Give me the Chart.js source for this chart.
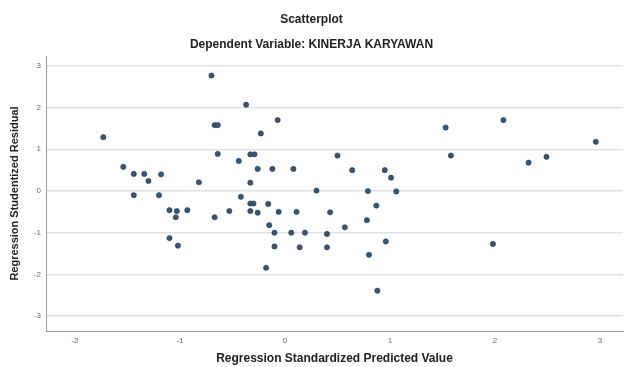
<!DOCTYPE html>
<html>
<head>
<meta charset="utf-8">
<script src="https://cdn.jsdelivr.net/npm/chart.js@4.4.1/dist/chart.umd.min.js"></script>
<style>
  html, body { margin: 0; padding: 0; background: #ffffff; }
  #wrap { width: 627px; height: 367px; }
</style>
</head>
<body>
<div id="wrap"><canvas id="c" width="627" height="367"></canvas></div>
<script>
// Regression Standardized Predicted Value (x)
const predicted = [
  -1.73, -1.54, -1.44, -1.34, -1.30, -1.18, -0.82, -1.44, -1.20, -1.10,
  -1.03, -1.04, -0.93, -1.10, -1.02, -0.70, -0.37, -0.67, -0.64, -0.07,
  -0.23, -0.64, -0.33, -0.29, -0.44, -0.26, -0.12, 0.08, -0.33, -0.42,
  -0.33, -0.30, -0.16, -0.53, -0.33, -0.26, -0.06, -0.67, -0.15, -0.10,
  0.06, -0.10, -0.18, 0.50, 0.64, 0.95, 1.01, 0.30, 0.79, 1.06,
  0.87, 0.11, 0.43, 0.78, 0.57, 0.19, 0.40, 0.96, 0.14, 0.40,
  0.80, 0.88, 1.53, 2.08, 1.58, 1.98, 2.32, 2.49, 2.96
];
// Regression Studentized Residual (y)
const residual = [
  1.29, 0.58, 0.41, 0.41, 0.24, 0.40, 0.21, -0.10, -0.10, -0.46,
  -0.48, -0.63, -0.46, -1.13, -1.31, 2.77, 2.07, 1.58, 1.58, 1.70,
  1.38, 0.89, 0.88, 0.88, 0.72, 0.53, 0.53, 0.53, 0.20, -0.14,
  -0.30, -0.30, -0.31, -0.48, -0.48, -0.52, -0.50, -0.63, -0.82, -1.00,
  -1.00, -1.33, -1.84, 0.85, 0.50, 0.50, 0.32, 0.01, 0.00, -0.01,
  -0.35, -0.50, -0.51, -0.70, -0.87, -1.00, -1.03, -1.21, -1.35, -1.35,
  -1.53, -2.39, 1.52, 1.70, 0.85, -1.27, 0.68, 0.82, 1.18
];
const xTicks = [-2, -1, 0, 1, 2, 3];
const yTicks = [-3, -2, -1, 0, 1, 2, 3];

const chartTitle = ['Scatterplot', 'Dependent Variable: KINERJA KARYAWAN'];
const xTitle = 'Regression Standardized Predicted Value';
const yTitle = 'Regression Studentized Residual';

const points = predicted.map((x, i) => ({ x: x, y: residual[i] }));
const FONT = "'Liberation Sans', Arial, sans-serif";

new Chart(document.getElementById('c'), {
  type: 'scatter',
  data: {
    datasets: [{
      data: points,
      backgroundColor: '#365676',
      borderColor: '#24364a',
      borderWidth: 0.6,
      pointRadius: 2.6,
      pointHoverRadius: 2.6
    }]
  },
  options: {
    responsive: false,
    animation: false,
    devicePixelRatio: 1,
    layout: { padding: { left: 0, right: 4, top: 0, bottom: 0 } },
    plugins: {
      legend: { display: false },
      tooltip: { enabled: false },
      title: {
        display: true,
        text: chartTitle,
        color: '#222222',
        font: { family: FONT, size: 12, weight: 'bold', lineHeight: 2.125 },
        padding: { top: 6.75, bottom: -1.75 }
      }
    },
    scales: {
      x: {
        type: 'linear',
        min: -2.276,
        max: 3.219,
        afterBuildTicks: (s) => { s.ticks = xTicks.map(v => ({ value: v })); },
        afterFit: (s) => { s.height = 36; },
        grid: { display: false, drawTicks: false },
        border: { display: true, color: '#9a9a9a', width: 1 },
        ticks: { color: '#666666', font: { family: FONT, size: 8 }, padding: 5, maxRotation: 0 },
        title: {
          display: true,
          text: xTitle,
          color: '#222222',
          font: { family: FONT, size: 12, weight: 'bold' },
          padding: { top: 0, bottom: 1 }
        }
      },
      y: {
        type: 'linear',
        min: -3.357,
        max: 3.237,
        afterBuildTicks: (s) => { s.ticks = yTicks.map(v => ({ value: v })); },
        afterFit: (s) => { s.width = 46; },
        grid: { color: '#e2e2e2', lineWidth: 1.5, drawTicks: false },
        border: { display: true, color: '#9a9a9a', width: 1 },
        ticks: { color: '#666666', font: { family: FONT, size: 8 }, padding: 5 },
        title: {
          display: true,
          text: yTitle,
          color: '#222222',
          font: { family: FONT, size: 11, weight: 'bold' },
          padding: { top: 8, bottom: 0 }
        }
      }
    }
  }
});
</script>
</body>
</html>
